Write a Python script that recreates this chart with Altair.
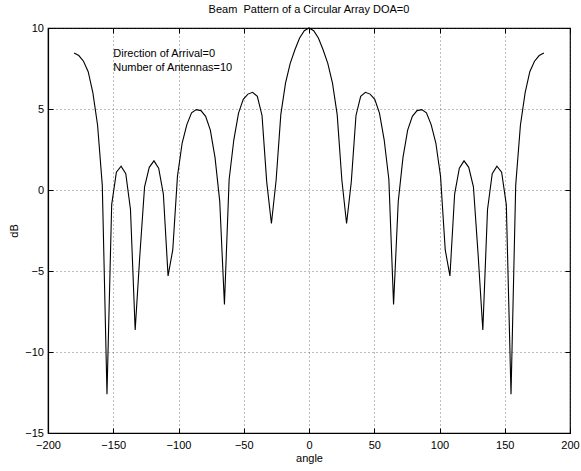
import altair as alt
import pandas as pd

# ---- data ----
angles = [-180, -176.4, -172.8, -169.2, -165.6, -162, -158.4, -154.8, -151.2, -147.6,
          -144, -140.4, -136.8, -133.2, -129.6, -126, -122.4, -118.8, -115.2, -111.6,
          -108, -104.4, -100.8, -97.2, -93.6, -90, -86.4, -82.8, -79.2, -75.6,
          -72, -68.4, -64.8, -61.2, -57.6, -54, -50.4, -46.8, -43.2, -39.6,
          -36, -32.4, -28.8, -25.2, -21.6, -18, -14.4, -10.8, -7.2, -3.6,
          0,
          3.6, 7.2, 10.8, 14.4, 18, 21.6, 25.2, 28.8, 32.4, 36,
          39.6, 43.2, 46.8, 50.4, 54, 57.6, 61.2, 64.8, 68.4, 72,
          75.6, 79.2, 82.8, 86.4, 90, 93.6, 97.2, 100.8, 104.4, 108,
          111.6, 115.2, 118.8, 122.4, 126, 129.6, 133.2, 136.8, 140.4, 144,
          147.6, 151.2, 154.8, 158.4, 162, 165.6, 169.2, 172.8, 176.4, 180]

db_values = [8.45, 8.3, 7.95, 7.3, 6.0, 4.0, 0.3, -12.6, -0.9, 1.1,
             1.47, 1.0, -1.2, -8.64, -4.0, 0.2, 1.4, 1.8, 1.35, -0.25,
             -5.3, -3.7, 0.84, 2.9, 4.04, 4.76, 4.96, 4.9, 4.55, 3.7,
             2.0, -0.7, -7.06, 0.65, 3.1, 4.75, 5.6, 5.92, 6.03, 5.78,
             4.6, 0.5, -2.07, 0.6, 4.65, 6.6, 7.82, 8.66, 9.38, 9.83,
             10.0,
             9.83, 9.38, 8.66, 7.82, 6.6, 4.65, 0.6, -2.07, 0.5, 4.6,
             5.78, 6.03, 5.92, 5.6, 4.75, 3.1, 0.65, -7.06, -0.7, 2.0,
             3.7, 4.55, 4.9, 4.96, 4.76, 4.04, 2.9, 0.84, -3.7, -5.3,
             -0.25, 1.35, 1.8, 1.4, 0.2, -4.0, -8.64, -1.2, 1.0, 1.47,
             1.1, -0.9, -12.6, 0.3, 4.0, 6.0, 7.3, 7.95, 8.3, 8.45]

x_ticks = [-200, -150, -100, -50, 0, 50, 100, 150, 200]
y_ticks = [-15, -10, -5, 0, 5, 10]

note_text = ["Direction of Arrival=0", "Number of Antennas=10"]
note_x = [-150, -150]
note_y = [8.42, 7.53]

title_text = "Beam \u00a0Pattern of a Circular Array DOA=0"

df = pd.DataFrame({"angle": angles, "dB": db_values})
notes = pd.DataFrame({"t": note_text, "x": note_x, "y": note_y})

W, H = 522, 405
FONT = "Liberation Sans"

xs = alt.Scale(domain=[-200, 200], nice=False, zero=False)
ys = alt.Scale(domain=[-15, 10], nice=False, zero=False)

main_x_axis = alt.Axis(
    orient="bottom", values=x_ticks, title="angle", grid=True, ticks=False, tickSize=0,
    labelPadding=6, labelFont=FONT, labelFontSize=11, labelColor="black",
    titleFont=FONT, titleFontSize=11, titleFontWeight="normal", titleColor="black",
    titleY=25, titleBaseline="middle",
    domainColor="black", domainWidth=1.2, gridColor="#444", gridDash=[1, 3], gridWidth=0.7,
    labelFlush=False, labelOverlap=False,
)
main_y_axis = alt.Axis(
    orient="left", values=y_ticks, title="dB", grid=True, ticks=False, tickSize=0,
    labelPadding=4.5, labelFont=FONT, labelFontSize=11, labelColor="black",
    titleFont=FONT, titleFontSize=11, titleFontWeight="normal", titleColor="black",
    titleX=-34, titleY=H / 2, titleBaseline="middle", titleAngle=270,
    domainColor="black", domainWidth=1.2, gridColor="#444", gridDash=[1, 3], gridWidth=0.7,
    labelFlush=False, labelOverlap=False,
)


def tick_axis(orient, values, offset):
    return alt.Axis(orient=orient, values=values, offset=offset, labels=False,
                    domain=False, grid=False, ticks=True, tickSize=5,
                    tickColor="black", tickWidth=1, title=None)


line = alt.Chart(df).mark_line(color="black", strokeWidth=1.1).encode(
    x=alt.X("angle:Q", scale=xs, axis=main_x_axis),
    y=alt.Y("dB:Q", scale=ys, axis=main_y_axis),
)

# inward ticks on bottom and left edges
ticks_a = alt.Chart(df).mark_line(opacity=0).encode(
    x=alt.X("angle:Q", scale=xs, axis=tick_axis("top", x_ticks, -H)),
    y=alt.Y("dB:Q", scale=ys, axis=tick_axis("right", y_ticks, -W)),
)
# inward ticks on top and right edges
ticks_b = alt.Chart(df).mark_line(opacity=0).encode(
    x=alt.X("angle:Q", scale=xs, axis=tick_axis("bottom", x_ticks, -H)),
    y=alt.Y("dB:Q", scale=ys, axis=tick_axis("left", y_ticks, -W)),
)

text = alt.Chart(notes).mark_text(
    align="left", baseline="middle", font=FONT, fontSize=11, color="black"
).encode(
    x=alt.X("x:Q", scale=xs, axis=None),
    y=alt.Y("y:Q", scale=ys, axis=None),
    text="t:N",
)

chart = alt.layer(line, ticks_a, ticks_b, text).resolve_axis(
    x="independent", y="independent"
).properties(
    width=W, height=H,
    title=alt.TitleParams(title_text, font=FONT, fontSize=11, fontWeight="normal",
                          color="black", anchor="middle", offset=7),
    autosize=alt.AutoSizeParams(type="none"),
    padding={"left": 48, "top": 28, "right": 11, "bottom": 38},
    background="white",
).configure_view(stroke="black", strokeWidth=1.2)

chart.save("out.html", embed_options={"renderer": "svg", "actions": False})
